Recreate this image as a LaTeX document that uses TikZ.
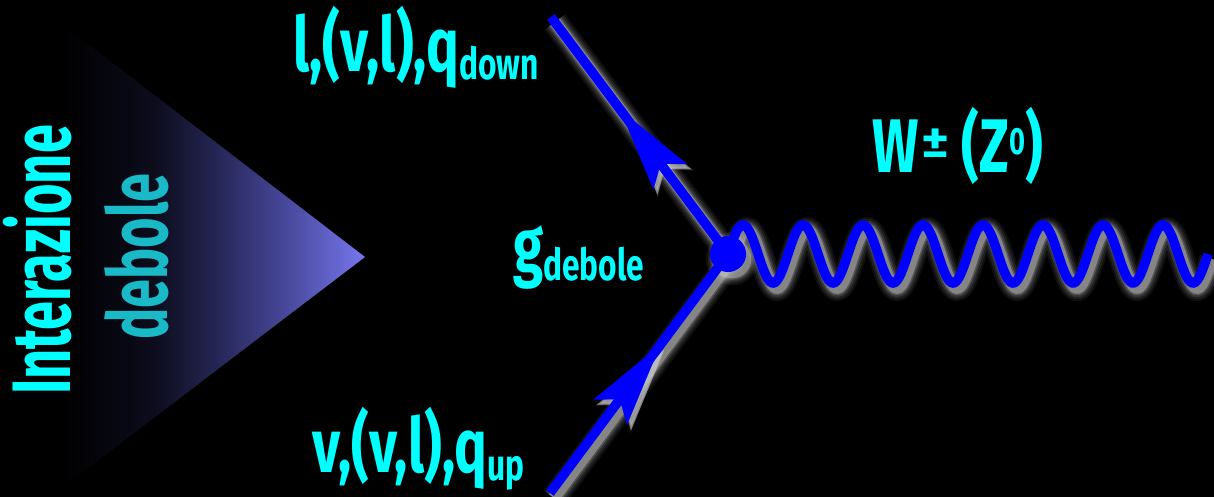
\documentclass[tikz,border=0pt]{standalone}
\usepackage{fontspec}
\usetikzlibrary{arrows.meta,decorations.markings}
\newfontfamily\labfont[FakeStretch=0.72]{Fira Sans}
\newfontfamily\vertfont[FakeStretch=0.63]{Fira Sans}
\definecolor{cy}{RGB}{0,255,255}
\definecolor{debc}{RGB}{25,185,200}
\definecolor{fb}{RGB}{0,0,255}
\definecolor{shc}{RGB}{205,205,205}
\definecolor{triA}{RGB}{12,12,28}
\definecolor{triB}{RGB}{36,36,82}
\definecolor{triC}{RGB}{72,72,155}
\definecolor{triD}{RGB}{118,118,238}
\pgfdeclarehorizontalshading{tri}{100bp}{color(0bp)=(black); color(25bp)=(black); color(40bp)=(triA); color(50bp)=(triB); color(62bp)=(triC); color(75bp)=(triD); color(100bp)=(triD)}
\newcommand\lsub[1]{\raisebox{-8pt}{\fontsize{44}{44}\selectfont #1}}
\newcommand\feyn[2]{%
  \draw[line width=#1pt, postaction={decorate}, decoration={markings, mark=at position 0.39 with {\arrowreversed{Stealth[length=84pt,width=42pt,inset=16pt,line width=#2pt]}}}] (a) -- (v);
  \draw[line width=#1pt, postaction={decorate}, decoration={markings, mark=at position 0.62 with {\arrow{Stealth[length=84pt,width=42pt,inset=16pt,line width=#2pt]}}}] (b) -- (v);
  \draw[line width=#1pt, shift={(v)}] plot[domain=-3:480, samples=300, smooth] (\x,{-29*sin(6*\x)});
  \fill (v) circle[radius=18+#2/2];
}
\begin{document}
\begin{tikzpicture}[x=1pt,y=-1pt,
  lab/.style={text=cy, font=\labfont\bfseries\fontsize{76}{80}\selectfont, inner sep=0pt},
  vert/.style={rotate=90, anchor=base west, font=\vertfont\bfseries\fontsize{83}{90}\selectfont, inner sep=0pt}]
\fill[black] (0,0) rectangle (1214,497);
\useasboundingbox (0,0) rectangle (1214,497);
\shade[shading=tri] (62,24) -- (365,257) -- (62,488) -- cycle;
\node[vert, text=cy] (int) at (70,395) {Interazione};
\node[vert, text=debc] (deb) at (167,340) {debole};
\node[lab, anchor=base west] (tl) at (293,72) {l,(v,l),q\lsub{down}};
\node[lab, anchor=base west] (bl) at (312,472) {v,(v,l),q\lsub{up}};
\node[lab, anchor=base west] (gl) at (513,272) {g\lsub{debole}};
\node[lab, anchor=base west] (wl) at (872,173) {W\hspace{3pt}\raisebox{16pt}{\scalebox{1.6}[1]{\fontsize{46}{46}\selectfont ±}}\hspace{12pt}(Z\raisebox{18pt}{\fontsize{38}{38}\selectfont 0})};
\coordinate (v) at (728,254);
\coordinate (a) at (551,17);
\coordinate (b) at (550,493);
\foreach \w/\e/\o in {26/17/0.07, 22/13/0.09, 18/9/0.13, 14.5/5.5/0.22, 11.5/2.5/0.4}{
  \begin{scope}[transform canvas={shift={(4pt,-5pt)}}, color=shc, opacity=\o]
    \feyn{\w}{\e}
  \end{scope}
}
\begin{scope}[color=fb]
  \feyn{9.5}{0.1}
\end{scope}
\end{tikzpicture}
\end{document}
